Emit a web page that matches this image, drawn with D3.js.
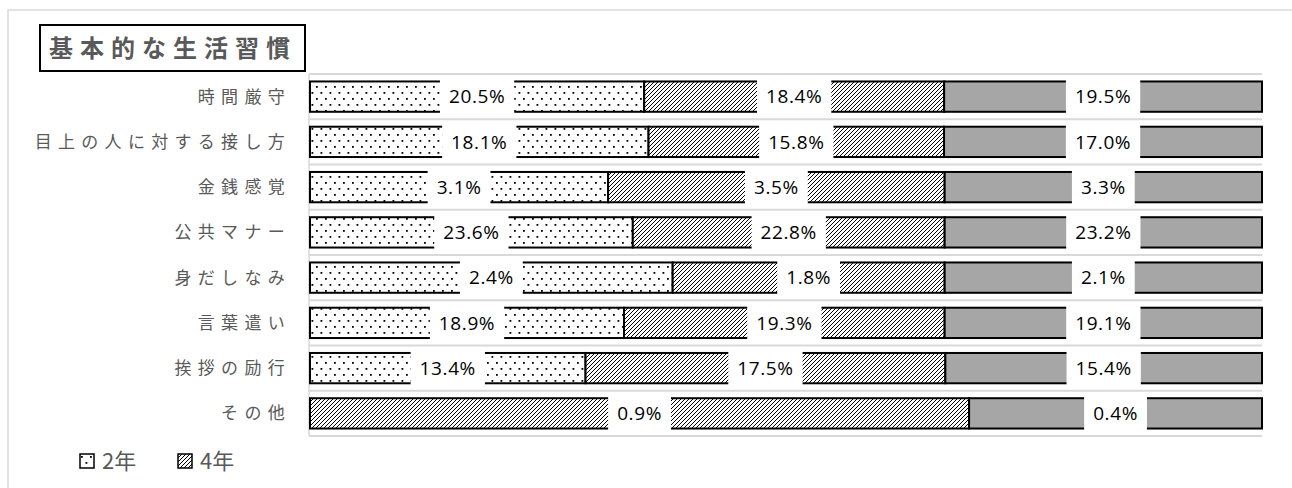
<!DOCTYPE html>
<html>
<head>
<meta charset="utf-8">
<script src="https://cdn.jsdelivr.net/npm/d3@7"></script>
<style>
  body { margin: 0; background: #fff; }
  svg { display: block; }
</style>
</head>
<body>
<div id="chart"></div>
<script>
// data
const categories = ["時間厳守", "目上の人に対する接し方", "金銭感覚", "公共マナー", "身だしなみ", "言葉遣い", "挨拶の励行", "その他"];
const year2 = [20.5, 18.1, 3.1, 23.6, 2.4, 18.9, 13.4, 0];
const year4 = [18.4, 15.8, 3.5, 22.8, 1.8, 19.3, 17.5, 0.9];
const overall = [19.5, 17.0, 3.3, 23.2, 2.1, 19.1, 15.4, 0.4];
const seriesKeys = ["2年", "4年", "全体"];
const legendKeys = ["2年", "4年"];
const chartTitle = "基本的な生活習慣";

const width = 1292;
const height = 488;
const plot = { left: 310, right: 1262, top: 74, bottom: 436 };

const svg = d3.select("#chart").append("svg")
  .attr("width", width)
  .attr("height", height);

// fill patterns
const defs = svg.append("defs");
const dots = defs.append("pattern")
  .attr("id", "dots")
  .attr("patternUnits", "userSpaceOnUse")
  .attr("width", 9).attr("height", 12);
dots.append("rect").attr("width", 9).attr("height", 12).attr("fill", "#fff");
dots.append("rect").attr("x", 1).attr("y", 2).attr("width", 1.8).attr("height", 1.8).attr("fill", "#000");
dots.append("rect").attr("x", 5.5).attr("y", 8).attr("width", 1.8).attr("height", 1.8).attr("fill", "#000");

const hatch = defs.append("pattern")
  .attr("id", "hatch")
  .attr("patternUnits", "userSpaceOnUse")
  .attr("width", 4).attr("height", 4);
hatch.append("rect").attr("width", 4).attr("height", 4).attr("fill", "#fff");
hatch.append("path")
  .attr("d", "M-1,1 l2,-2 M0,4 l4,-4 M3,5 l2,-2")
  .attr("stroke", "#000")
  .attr("stroke-width", 1);

const fills = { "2年": "url(#dots)", "4年": "url(#hatch)", "全体": "#a6a6a6" };

// chart area border
svg.append("path")
  .attr("d", `M8,${height} V10 H${width}`)
  .attr("fill", "none")
  .attr("stroke", "#d9d9d9")
  .attr("stroke-width", 1.5);

// title box
svg.append("rect")
  .attr("x", 40).attr("y", 25)
  .attr("width", 265).attr("height", 46)
  .attr("fill", "#fff")
  .attr("stroke", "#000")
  .attr("stroke-width", 2);
svg.append("text")
  .attr("x", 49).attr("y", 57)
  .attr("font-family", "'Noto Sans CJK JP', sans-serif")
  .attr("font-size", 24)
  .attr("font-weight", "bold")
  .attr("letter-spacing", 7)
  .attr("fill", "#595959")
  .text(chartTitle);

// rows for the stack
const rows = categories.map((c, i) => ({
  cat: c,
  "2年": year2[i],
  "4年": year4[i],
  "全体": overall[i]
}));
const stacked = d3.stack().keys(seriesKeys).offset(d3.stackOffsetExpand)(rows);

const x = d3.scaleLinear().domain([0, 1]).range([plot.left, plot.right]);
const y = d3.scaleBand()
  .domain(categories)
  .range([plot.top, plot.bottom])
  .paddingInner(0.33)
  .paddingOuter(0.165);

const step = y.step();

// gridlines on band boundaries
svg.append("g")
  .selectAll("line")
  .data(d3.range(categories.length + 1))
  .join("line")
  .attr("x1", plot.left - 1)
  .attr("x2", plot.right)
  .attr("y1", (i) => plot.top + i * step)
  .attr("y2", (i) => plot.top + i * step)
  .attr("stroke", "#d9d9d9")
  .attr("stroke-width", 2);

// category axis line
svg.append("line")
  .attr("x1", plot.left - 1).attr("x2", plot.left - 1)
  .attr("y1", plot.top).attr("y2", plot.bottom)
  .attr("stroke", "#d9d9d9")
  .attr("stroke-width", 1.5);

// category labels
svg.append("g")
  .selectAll("text")
  .data(categories)
  .join("text")
  .attr("x", 291)
  .attr("y", (d) => y(d) + y.bandwidth() / 2)
  .attr("dy", "0.36em")
  .attr("text-anchor", "end")
  .attr("font-family", "'Noto Sans CJK JP', sans-serif")
  .attr("font-size", 17)
  .attr("letter-spacing", 6.3)
  .attr("fill", "#595959")
  .text((d) => d);

// bars
const series = svg.append("g")
  .selectAll("g")
  .data(stacked)
  .join("g")
  .attr("fill", (s) => fills[s.key]);

series.selectAll("rect")
  .data((s) => s.filter((d) => d[1] - d[0] > 0))
  .join("rect")
  .attr("x", (d) => x(d[0]))
  .attr("y", (d) => y(d.data.cat))
  .attr("width", (d) => x(d[1]) - x(d[0]))
  .attr("height", y.bandwidth())
  .attr("stroke", "#000")
  .attr("stroke-width", 2);

// data labels with white boxes
const fmt = d3.format(".1f");
const labels = svg.append("g")
  .selectAll("g")
  .data(stacked.flatMap((s) => s.map((d) => ({ key: s.key, d: d }))).filter((o) => o.d.data[o.key] > 0))
  .join("g")
  .attr("transform", (o) => `translate(${(x(o.d[0]) + x(o.d[1])) / 2},${y(o.d.data.cat) + y.bandwidth() / 2})`);

labels.append("rect").attr("fill", "#fff");
labels.append("text")
  .attr("text-anchor", "middle")
  .attr("dy", "0.36em")
  .attr("font-family", "'Open Sans', sans-serif")
  .attr("font-size", 19)
  .attr("letter-spacing", 0.6)
  .attr("fill", "#000")
  .text((o) => fmt(o.d.data[o.key]) + "%");

labels.each(function () {
  const g = d3.select(this);
  const bb = g.select("text").node().getBBox();
  g.select("rect")
    .attr("x", -bb.width / 2 - 9)
    .attr("y", -y.bandwidth() / 2 - 3)
    .attr("width", bb.width + 18)
    .attr("height", y.bandwidth() + 6);
});

// legend
const legendX = [80, 178];
const legend = svg.append("g")
  .selectAll("g")
  .data(legendKeys)
  .join("g")
  .attr("transform", (d, i) => `translate(${legendX[i]},454)`);
legend.append("rect")
  .attr("width", 14).attr("height", 14)
  .attr("fill", (d) => fills[d])
  .attr("stroke", "#000")
  .attr("stroke-width", 1.5);
legend.append("text")
  .attr("x", 22).attr("y", 15)
  .attr("font-family", "'Noto Sans CJK JP', sans-serif")
  .attr("font-size", 22)
  .attr("fill", "#595959")
  .text((d) => d);
</script>
</body>
</html>
